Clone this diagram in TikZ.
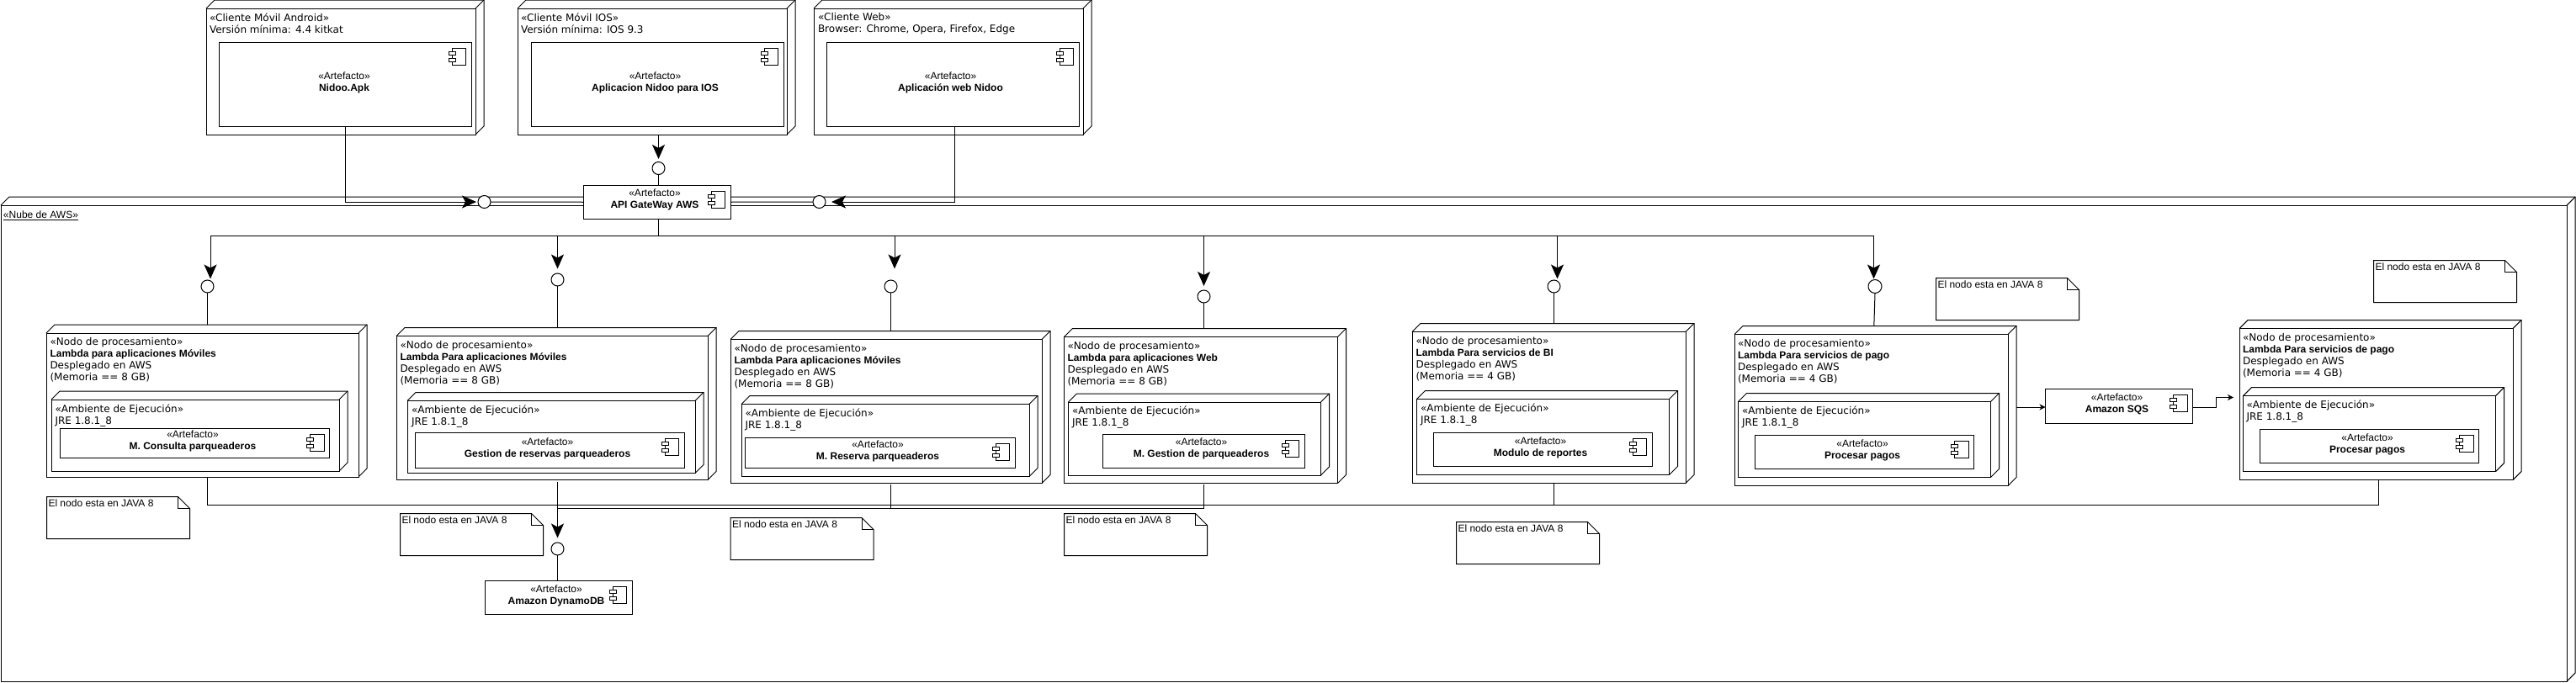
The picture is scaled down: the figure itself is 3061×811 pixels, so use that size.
\documentclass[tikz,border=0pt]{standalone}
\usepackage{fontspec}
\setmainfont{Liberation Sans}
\newfontfamily\dejavu{DejaVu Sans}
\newfontfamily\arial{Liberation Sans}
\newcommand{\negrita}[1]{{\arial\fontsize{12}{14}\selectfont\bfseries #1}}
\usetikzlibrary{arrows.meta}

\begin{document}
\begin{tikzpicture}[x=1pt,y=-1pt,line width=1pt,
	cubo/.style 2 args={draw,fill=white,inner sep=0pt,outer sep=0pt,anchor=north west,minimum width=#1pt,minimum height=#2pt,
		append after command={\pgfextra{\let\ultimo\tikzlastnode
			\draw (\ultimo.north west) -- ++(10pt,10pt) -- ([shift={(10pt,10pt)}]\ultimo.north east) -- ([shift={(10pt,10pt)}]\ultimo.south east) -- (\ultimo.south east);
			\draw (\ultimo.north east) -- ++(10pt,10pt);}}},
	artefacto/.style 2 args={draw,fill=white,inner sep=0pt,outer sep=0pt,anchor=north west,minimum width=#1pt,minimum height=#2pt,
		path picture={
			\draw ([shift={(-23pt,-7pt)}]path picture bounding box.north east) rectangle ([shift={(-6.5pt,-27pt)}]path picture bounding box.north east);
			\draw[fill=white] ([shift={(-27pt,-11pt)}]path picture bounding box.north east) rectangle ([shift={(-19pt,-15pt)}]path picture bounding box.north east);
			\draw[fill=white] ([shift={(-27pt,-19pt)}]path picture bounding box.north east) rectangle ([shift={(-19pt,-23pt)}]path picture bounding box.north east);}},
	nota/.style={inner sep=0pt,outer sep=0pt,anchor=north west,minimum width=170pt,minimum height=50pt,
		append after command={\pgfextra{\let\ultimo\tikzlastnode
			\draw (\ultimo.north west) -- ([xshift=-14pt]\ultimo.north east) -- ([yshift=-14pt]\ultimo.north east) -- (\ultimo.south east) -- (\ultimo.south west) -- cycle;
			\draw ([xshift=-14pt]\ultimo.north east) -- ([shift={(-14pt,-14pt)}]\ultimo.north east) -- ([yshift=-14pt]\ultimo.north east);}}},
	texto/.style={anchor=north west,inner sep=0pt,outer sep=0pt,yshift=-1pt,align=left,font=\dejavu\fontsize{12}{14}\selectfont,execute at begin node=\strut},
	textonota/.style={texto,font=\fontsize{12}{14}\selectfont},
	textoart/.style={inner sep=0pt,outer sep=0pt,align=center,font=\fontsize{12}{14}\selectfont,execute at begin node=\strut,execute at end node=\strut},
	circulo/.style={circle,draw,fill=white,inner sep=0pt,outer sep=0pt,minimum size=15pt},
	flecha/.style={-{Stealth[length=17pt,width=15pt,inset=4pt]}},
	flechita/.style={-{Stealth[length=7pt,width=7pt,inset=2pt]}},
	subir/.style={shorten >=10pt}]
	\useasboundingbox (0,0) rectangle (3061,811);
	
	\node[cubo={3049}{566}] (nube) at (1,244) {};
	\node[textonota] (nubeT) at (4,249) {\underline{«Nube de AWS»}};
	
	% clientes
	\node[cubo={320}{150}] (android) at (245,10) {};
	\node[texto] (androidT) at (249,14.5) {«Cliente Móvil Android»\\Versión mínima: 4.4 kitkat};
	\node[artefacto={300}{100}] (artApk) at (260,50) {};
	\node[textoart] (artApkT) at ([shift={(-1pt,1pt)}]artApk.center) {«Artefacto»\\\textbf{Nidoo.Apk}};
	
	\node[cubo={320}{150}] (ios) at (615,10) {};
	\node[texto] (iosT) at (619,14.5) {«Cliente Móvil IOS»\\Versión mínima: IOS 9.3};
	\node[artefacto={300}{100}] (artIos) at (631,50) {};
	\node[textoart] (artIosT) at ([shift={(-2.5pt,1pt)}]artIos.center) {«Artefacto»\\\textbf{Aplicacion Nidoo para IOS}};
	
	\node[cubo={320}{150}] (web) at (967,10) {};
	\node[texto] (webT) at (972,14.5) {«Cliente Web»\\Browser: Chrome, Opera, Firefox, Edge};
	\node[artefacto={300}{100}] (artWeb) at (982,50) {};
	\node[textoart] (artWebT) at ([shift={(-2.5pt,1pt)}]artWeb.center) {«Artefacto»\\\textbf{Aplicación web Nidoo}};
	
	% lambdas
	\node[cubo={371}{171}] (lambdaA) at (55,396) {};
	\node[texto] (lambdaAT) at (59.5,400) {«Nodo de procesamiento»\\\negrita{Lambda para aplicaciones Móviles}\\Desplegado en AWS\\(Memoria == 8 GB)};
	\node[cubo={342}{85}] (ambA) at (61,475) {};
	\node[texto] (ambAT) at (65.5,480) {«Ambiente de Ejecución»\\JRE 1.8.1\_8};
	\node[artefacto={320}{35}] (artA) at (71.5,509.5) {};
	\node[textoart] (artAT) at ([shift={(-2.5pt,1.5pt)}]artA.center) {«Artefacto»\\\textbf{M. Consulta parqueaderos}};
	
	\node[cubo={370}{171}] (lambdaB) at (471,399.5) {};
	\node[texto] (lambdaBT) at (475.5,404) {«Nodo de procesamiento»\\\negrita{Lambda Para aplicaciones Móviles}\\Desplegado en AWS\\(Memoria == 8 GB)};
	\node[cubo={342}{86}] (ambB) at (484,476.5) {};
	\node[texto] (ambBT) at (489,481) {«Ambiente de Ejecución»\\JRE 1.8.1\_8};
	\node[artefacto={320}{42}] (artB) at (493,514.5) {};
	\node[textoart] (artBT) at ([shift={(-2.5pt,1.5pt)}]artB.center) {«Artefacto»\\\textbf{Gestion de reservas parqueaderos}};
	
	\node[cubo={370}{171}] (lambdaC) at (868,403.5) {};
	\node[texto] (lambdaCT) at (872.5,408) {«Nodo de procesamiento»\\\negrita{Lambda Para aplicaciones Móviles}\\Desplegado en AWS\\(Memoria == 8 GB)};
	\node[cubo={342}{86}] (ambC) at (881,480.5) {};
	\node[texto] (ambCT) at (885.5,485) {«Ambiente de Ejecución»\\JRE 1.8.1\_8};
	\node[artefacto={321}{36}] (artC) at (885,520.5) {};
	\node[textoart] (artCT) at ([shift={(-2.5pt,1.5pt)}]artC.center) {«Artefacto»\\\textbf{M. Reserva parqueaderos}};
	
	\node[cubo={325}{174}] (lambdaD) at (1264.5,400.5) {};
	\node[texto] (lambdaDT) at (1268.5,405) {«Nodo de procesamiento»\\\negrita{Lambda para aplicaciones Web}\\Desplegado en AWS\\(Memoria == 8 GB)};
	\node[cubo={300}{87}] (ambD) at (1269.5,478) {};
	\node[texto] (ambDT) at (1274,482) {«Ambiente de Ejecución»\\JRE 1.8.1\_8};
	\node[artefacto={240}{39.5}] (artD) at (1310,516.5) {};
	\node[textoart] (artDT) at ([shift={(-2.5pt,1.5pt)}]artD.center) {«Artefacto»\\\textbf{M. Gestion de parqueaderos}};
	
	\node[cubo={325}{180}] (lambdaE) at (1678,394.5) {};
	\node[texto] (lambdaET) at (1682.5,399) {«Nodo de procesamiento»\\\negrita{Lambda Para servicios de BI}\\Desplegado en AWS\\(Memoria == 4 GB)};
	\node[cubo={300}{90}] (ambE) at (1683.5,474.5) {};
	\node[texto] (ambET) at (1688,478.5) {«Ambiente de Ejecución»\\JRE 1.8.1\_8};
	\node[artefacto={260}{40}] (artE) at (1703,514.5) {};
	\node[textoart] (artET) at ([shift={(-2.5pt,1.5pt)}]artE.center) {«Artefacto»\\\textbf{Modulo de reportes}};
	
	\node[cubo={325}{180}] (lambdaF) at (2061,397.5) {};
	\node[texto] (lambdaFT) at (2065,402) {«Nodo de procesamiento»\\\negrita{Lambda Para servicios de pago}\\Desplegado en AWS\\(Memoria == 4 GB)};
	\node[cubo={300}{90}] (ambF) at (2065.5,477.5) {};
	\node[texto] (ambFT) at (2070,482) {«Ambiente de Ejecución»\\JRE 1.8.1\_8};
	\node[artefacto={260}{40}] (artF) at (2085.5,517.5) {};
	\node[textoart] (artFT) at ([shift={(-2.5pt,1.5pt)}]artF.center) {«Artefacto»\\\textbf{Procesar pagos}};
	
	\node[cubo={325}{180}] (lambdaG) at (2661,390.5) {};
	\node[texto] (lambdaGT) at (2665,395) {«Nodo de procesamiento»\\\negrita{Lambda Para servicios de pago}\\Desplegado en AWS\\(Memoria == 4 GB)};
	\node[cubo={300}{90}] (ambG) at (2665.5,470.5) {};
	\node[texto] (ambGT) at (2669.5,475) {«Ambiente de Ejecución»\\JRE 1.8.1\_8};
	\node[artefacto={260}{40}] (artG) at (2685.5,510.5) {};
	\node[textoart] (artGT) at ([shift={(-2.5pt,1.5pt)}]artG.center) {«Artefacto»\\\textbf{Procesar pagos}};
	
	% servicios
	\node[artefacto={175}{40.5}] (gateway) at (693,220) {};
	\node[textoart] (gatewayT) at ([shift={(-2.5pt,1.5pt)}]gateway.center) {«Artefacto»\\\textbf{API GateWay AWS}};
	\node[artefacto={175}{40.5}] (dynamo) at (576,690) {};
	\node[textoart] (dynamoT) at ([shift={(-2.5pt,1.5pt)}]dynamo.center) {«Artefacto»\\\textbf{Amazon DynamoDB}};
	\node[artefacto={175}{40.5}] (sqs) at (2430.5,462.5) {};
	\node[textoart] (sqsT) at ([shift={(-2.5pt,1.5pt)}]sqs.center) {«Artefacto»\\\textbf{Amazon SQS}};
	
	% notas
	\node[nota] (notaA) at (55.5,590.5) {};
	\node[textonota] (notaAT) at ([shift={(2pt,-1pt)}]notaA.north west) {El nodo esta en JAVA 8};
	\node[nota] (notaB) at (475.5,610.5) {};
	\node[textonota] (notaBT) at ([shift={(2pt,-1pt)}]notaB.north west) {El nodo esta en JAVA 8};
	\node[nota] (notaC) at (868,615.5) {};
	\node[textonota] (notaCT) at ([shift={(2pt,-1pt)}]notaC.north west) {El nodo esta en JAVA 8};
	\node[nota] (notaD) at (1264.5,610.5) {};
	\node[textonota] (notaDT) at ([shift={(2pt,-1pt)}]notaD.north west) {El nodo esta en JAVA 8};
	\node[nota] (notaE) at (1730.5,620.5) {};
	\node[textonota] (notaET) at ([shift={(2pt,-1pt)}]notaE.north west) {El nodo esta en JAVA 8};
	\node[nota] (notaF) at (2300.5,330.5) {};
	\node[textonota] (notaFT) at ([shift={(2pt,-1pt)}]notaF.north west) {El nodo esta en JAVA 8};
	\node[nota] (notaG) at (2820.5,309.5) {};
	\node[textonota] (notaGT) at ([shift={(2pt,-1pt)}]notaG.north west) {El nodo esta en JAVA 8};
	
	% interfaces
	\node[circulo] (circT) at (782.5,200) {};
	\node[circulo] (circL) at (575.5,240) {};
	\node[circulo] (circR) at (973.5,240) {};
	\node[circulo] (circA) at (246.5,340.5) {};
	\node[circulo] (circB) at (662.5,332.5) {};
	\node[circulo] (circC) at (1058.5,340.5) {};
	\node[circulo] (circD) at (1430.5,352.5) {};
	\node[circulo] (circE) at (1846.5,340.5) {};
	\node[circulo,minimum size=16pt] (circF) at (2228,340.5) {};
	\node[circulo] (circH) at (662.5,652.5) {};
	
	\coordinate (puntaT) at (782.5,189);
	\coordinate (puntaL) at (566,240);
	\coordinate (puntaR) at (988,240);
	\coordinate (troncal) at (782.5,280);
	\coordinate (puntaA) at (250,331.5);
	\coordinate (puntaB) at (662.5,319.5);
	\coordinate (puntaC) at (1063,319.5);
	\coordinate (puntaD) at (1430.5,340);
	\coordinate (puntaE) at (1850.5,331.5);
	\coordinate (puntaF) at (2226.5,331.5);
	\coordinate (puntaH) at (662.5,639.5);
	\coordinate (puntaS) at (2654,472.5);
	\coordinate (salidaF) at (2396,484);
	\coordinate (busG) at (2826.5,570.5);
	\coordinate (busUno) at (0,600.5);
	\coordinate (busDos) at (0,604.5);
	
	% conexiones
	\draw[flecha] (puntaT |- ios.south) -- (puntaT);
	\draw (circT) -- (troncal |- gateway.north);
	\draw[flecha] (artApk.south) |- (puntaL);
	\draw[flecha] ([xshift=2pt]artWeb.south) |- (puntaR);
	\draw (circL) -- (gateway.west);
	\draw (circR) -- (gateway.east);
	\draw (troncal |- gateway.south) -- (troncal);
	
	\draw[flecha] (troncal) -| (puntaA);
	\draw[flecha] (troncal) -| (puntaB);
	\draw[flecha] (troncal) -| (puntaC);
	\draw[flecha] (troncal) -| (puntaD);
	\draw[flecha] (troncal) -| (puntaE);
	\draw[flecha] (troncal) -| (puntaF);
	
	\draw[subir] (circA.south) -- (circA |- lambdaA.north);
	\draw[subir] (circB.south) -- (circB |- lambdaB.north);
	\draw[subir] (circC.south) -- (circC |- lambdaC.north);
	\draw[subir] (circD.south) -- (circD |- lambdaD.north);
	\draw[subir] (circE.south) -- (circE |- lambdaE.north);
	\draw[subir] (circF.south) -- (puntaF |- lambdaF.north);
	
	\draw (circA |- lambdaA.south) -- (circA |- busUno) -| (busG);
	\draw (circE |- lambdaE.south) -- (circE |- busUno);
	\draw (circB |- busDos) -- (circD |- busDos) -- ([yshift=-1pt]circD |- lambdaD.south);
	\draw (circC |- busDos) -- ([yshift=-1pt]circC |- lambdaC.south);
	
	\draw[flecha] ([yshift=-2pt]circB |- lambdaB.south) -- (puntaH);
	\draw (circH.south) -- (circH |- dynamo.north);
	
	\draw[flechita] (salidaF) -- (sqs.west |- salidaF);
	\draw[flechita] (sqs.east |- salidaF) -- ++(28pt,0pt) |- (puntaS);
\end{tikzpicture}
\end{document}
